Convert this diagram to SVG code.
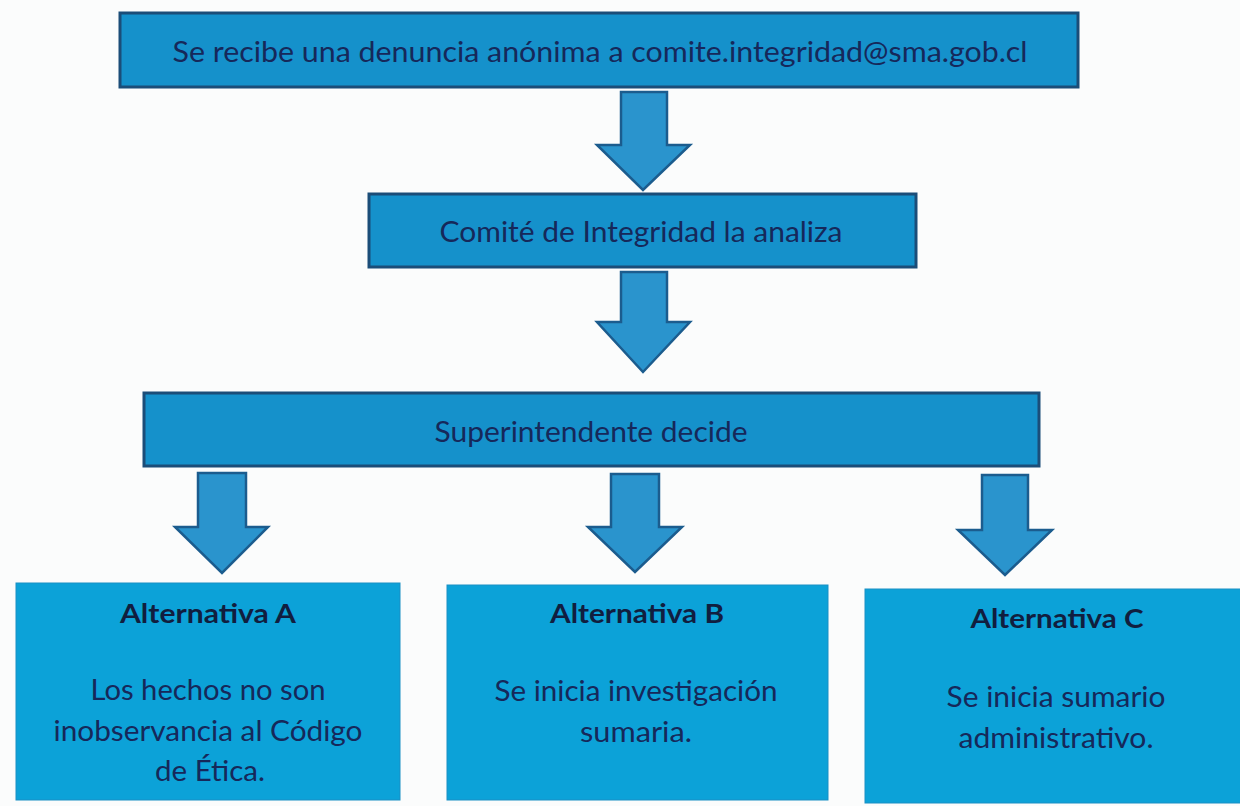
<svg xmlns="http://www.w3.org/2000/svg" width="1240" height="806" viewBox="0 0 1240 806">
<defs>
<style>
.bg{fill:#fbfcfc}
.box{fill:#1591cb;stroke:#1b4d78;stroke-width:3}
.alt{fill:#0ca2d8;stroke:#1a8fc4;stroke-width:1}
.arr{fill:#2a94cd;stroke:#1b5c8e;stroke-width:2.5;stroke-linejoin:miter}
.t{font-family:Lato,"Liberation Sans",sans-serif;fill:#16285a;text-anchor:middle;font-size:28px}
.h{font-family:Lato,"Liberation Sans",sans-serif;fill:#111e3f;text-anchor:middle;font-size:27px;font-weight:bold}
.b{font-family:Lato,"Liberation Sans",sans-serif;fill:#16285a;text-anchor:middle;font-size:28px}
</style>
</defs>
<rect class="bg" x="0" y="0" width="1240" height="806"/>
<g id="connectors">
<path class="arr" d="M621,92 H667 V145 H690 L643,190 L597,145 H621 Z"/>
<path class="arr" d="M621,272 H667 V322 H690 L643,372 L597,322 H621 Z"/>
<path class="arr" d="M198,473 H246 V527 H268 L222,573 L175,527 H198 Z"/>
<path class="arr" d="M611,474 H659 V527 H682 L635,572 L588,527 H611 Z"/>
<path class="arr" d="M982,475 H1028 V530 H1052 L1005,575 L958,530 H982 Z"/>
</g>
<g id="n1">
<rect class="box" x="120" y="13" width="958" height="74"/>
<text class="t" x="600" y="62" textLength="855" lengthAdjust="spacingAndGlyphs">Se recibe una denuncia anónima a comite.integridad@sma.gob.cl</text>
</g>
<g id="n2">
<rect class="box" x="369" y="194" width="547" height="73"/>
<text class="t" x="641" y="242" textLength="403" lengthAdjust="spacingAndGlyphs">Comité de Integridad la analiza</text>
</g>
<g id="n3">
<rect class="box" x="144" y="393" width="895" height="73"/>
<text class="t" x="591" y="442" textLength="313" lengthAdjust="spacingAndGlyphs">Superintendente decide</text>
</g>
<g id="nA">
<rect class="alt" x="16" y="583" width="384" height="217"/>
<text class="h" x="208" y="623" textLength="176" lengthAdjust="spacingAndGlyphs">Alternativa A</text>
<text class="b" x="208" y="700" textLength="235" lengthAdjust="spacingAndGlyphs">Los hechos no son</text>
<text class="b" x="208" y="741" textLength="309" lengthAdjust="spacingAndGlyphs">inobservancia al Código</text>
<text class="b" x="210" y="781" textLength="110" lengthAdjust="spacingAndGlyphs">de Ética.</text>
</g>
<g id="nB">
<rect class="alt" x="447" y="585" width="381" height="215"/>
<text class="h" x="637" y="623" textLength="174" lengthAdjust="spacingAndGlyphs">Alternativa B</text>
<text class="b" x="636" y="701" textLength="283" lengthAdjust="spacingAndGlyphs">Se inicia investigación</text>
<text class="b" x="636" y="742" textLength="112" lengthAdjust="spacingAndGlyphs">sumaria.</text>
</g>
<g id="nC">
<rect class="alt" x="865" y="589" width="380" height="214"/>
<text class="h" x="1057" y="628" textLength="173" lengthAdjust="spacingAndGlyphs">Alternativa C</text>
<text class="b" x="1056" y="707" textLength="219" lengthAdjust="spacingAndGlyphs">Se inicia sumario</text>
<text class="b" x="1056" y="748" textLength="195" lengthAdjust="spacingAndGlyphs">administrativo.</text>
</g>
</svg>
